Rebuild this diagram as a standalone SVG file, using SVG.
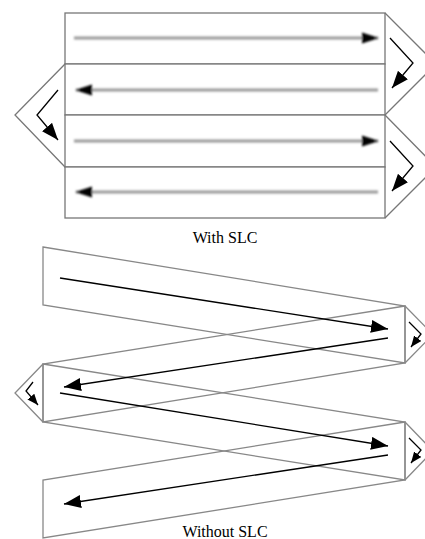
<svg xmlns="http://www.w3.org/2000/svg" width="425" height="539" viewBox="0 0 425 539">
<style>
.box{fill:#fff;stroke:#777;stroke-width:1.3}
.chev{fill:none;stroke:#777;stroke-width:1.3}
.band{fill:none;stroke:#888;stroke-width:1.3}
.blur{stroke:#999;stroke-width:3;fill:none}
.bl{stroke:#000;stroke-width:1.3;fill:none}
.cap{font-family:"Liberation Serif","DejaVu Serif",serif;font-size:16px;fill:#000;text-anchor:middle}
</style>
<defs>
<filter id="soft" filterUnits="userSpaceOnUse" x="60" y="20" width="330" height="190"><feGaussianBlur stdDeviation="1"/></filter>
<marker id="hg" markerUnits="userSpaceOnUse" markerWidth="17" markerHeight="12" refX="16" refY="6" orient="auto"><path d="M0,0.5 L17,6 L0,11.5 z" fill="#000"/></marker>
<marker id="hb" markerUnits="userSpaceOnUse" markerWidth="17" markerHeight="13" refX="17" refY="6.5" orient="auto"><path d="M0,0 L17,6.5 L0,13 z" fill="#000"/></marker>
<marker id="hs" markerUnits="userSpaceOnUse" markerWidth="11" markerHeight="9" refX="11" refY="4.5" orient="auto"><path d="M0,0 L11,4.5 L0,9 z" fill="#000"/></marker>
</defs>
<g id="top">
<g id="row1"><rect class="box" x="65" y="13" width="320" height="51"/></g>
<g id="row2"><rect class="box" x="65" y="64" width="320" height="51"/></g>
<g id="row3"><rect class="box" x="65" y="115" width="320" height="52"/></g>
<g id="row4"><rect class="box" x="65" y="167" width="320" height="51"/></g>
<g id="chevR1"><polyline class="chev" points="385,13 436,64 385,115"/></g>
<g id="chevL1"><polyline class="chev" points="65,64 15,115 65,167"/></g>
<g id="chevR2"><polyline class="chev" points="385,115 436,167 385,218"/></g>
</g>
<g id="bottom">
<g id="band1"><polygon class="band" points="43,247 405,306 405,363 43,305"/></g>
<g id="band2"><polygon class="band" points="405,306 43,364 43,422 405,363"/></g>
<g id="band3"><polygon class="band" points="43,364 405,422 405,480 43,422"/></g>
<g id="band4"><polygon class="band" points="405,422 43,480 43,538 405,480"/></g>
<g id="chevR3"><polyline class="band" points="405,306 433,334.5 405,363"/></g>
<g id="chevL2"><polyline class="band" points="43,364 15,393 43,422"/></g>
<g id="chevR4"><polyline class="band" points="405,422 433,451 405,480"/></g>
</g>
<g id="connectors">
<g filter="url(#soft)">
<line class="blur" x1="74" y1="38" x2="378" y2="38" marker-end="url(#hg)"/>
<line class="blur" x1="378" y1="90" x2="76" y2="90" marker-end="url(#hg)"/>
<line class="blur" x1="74" y1="141" x2="378" y2="141" marker-end="url(#hg)"/>
<line class="blur" x1="378" y1="192" x2="76" y2="192" marker-end="url(#hg)"/>
</g>
<polyline class="bl" points="390,38 413,63 392,88" marker-end="url(#hb)"/>
<polyline class="bl" points="58,90 37,115 58,140" marker-end="url(#hb)"/>
<polyline class="bl" points="390,141 413,166 392,191" marker-end="url(#hb)"/>
<line class="bl" x1="60" y1="278" x2="388" y2="329" marker-end="url(#hb)"/>
<line class="bl" x1="388" y1="338" x2="64" y2="387" marker-end="url(#hb)"/>
<line class="bl" x1="60" y1="393" x2="388" y2="446" marker-end="url(#hb)"/>
<line class="bl" x1="388" y1="455" x2="64" y2="504" marker-end="url(#hb)"/>
<polyline class="bl" points="409,322 421,334 411,347" marker-end="url(#hs)"/>
<polyline class="bl" points="33,382 26,391 38,405" marker-end="url(#hs)"/>
<polyline class="bl" points="409,438 421,450 411,463" marker-end="url(#hs)"/>
</g>
<text class="cap" x="225" y="243">With SLC</text>
<text class="cap" x="225" y="537">Without SLC</text>
</svg>
